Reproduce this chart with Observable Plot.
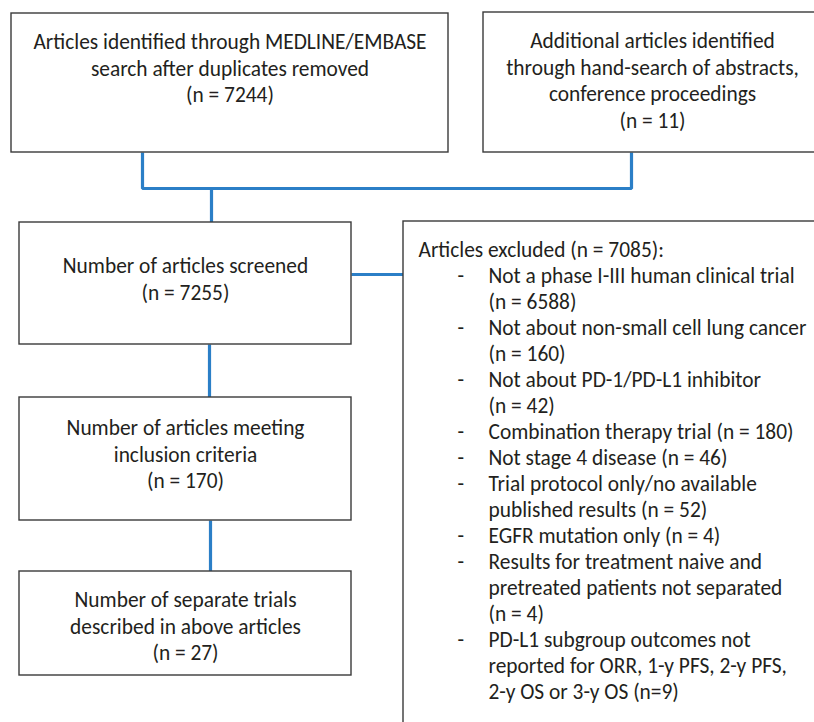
<!DOCTYPE html>
<html>
<head>
<meta charset="utf-8">
<script src="https://cdn.jsdelivr.net/npm/d3@7"></script>
<script src="https://cdn.jsdelivr.net/npm/@observablehq/plot@0.6"></script>
<style>
  html, body { margin: 0; padding: 0; background: #fff; }
  #chart svg { display: block; }
</style>
</head>
<body>
<div id="chart"></div>
<script>
// ---- Data (text and counts) ----
const stageLabels = [
  "Articles identified through MEDLINE/EMBASE\nsearch after duplicates removed",
  "Additional articles identified\nthrough hand-search of abstracts,\nconference proceedings",
  "Number of articles screened",
  "Number of articles meeting\ninclusion criteria",
  "Number of separate trials\ndescribed in above articles"
];
const stageCounts = [7244, 11, 7255, 170, 27];

const excludedHeader = "Articles excluded";
const excludedCount = 7085;
const reasonLabels = [
  "Not a phase I-III human clinical trial",
  "Not about non-small cell lung cancer",
  "Not about PD-1/PD-L1 inhibitor",
  "Combination therapy trial",
  "Not stage 4 disease",
  "Trial protocol only/no available\npublished results",
  "EGFR mutation only",
  "Results for treatment naive and\npretreated patients not separated",
  "PD-L1 subgroup outcomes not\nreported for ORR, 1-y PFS, 2-y PFS,\n2-y OS or 3-y OS"
];
const reasonCounts = [6588, 160, 42, 180, 46, 52, 4, 4, 9];
const countOnNewLine = [true, true, true, false, false, false, false, true, false];
const compactCount = [false, false, false, false, false, false, false, false, true];

// ---- Layout (diagram geometry in pixel units of the x/y scales) ----
const W = 814, H = 722;
// baseline: baseline of the first text line
const boxLayout = [
  {x1: 11,  x2: 448, y1: 13,  y2: 152, cx: 229.5, baseline: 44.5},
  {x1: 483, x2: 822, y1: 12,  y2: 152, cx: 652,   baseline: 43.5},
  {x1: 19,  x2: 351, y1: 222, y2: 344, cx: 185,   baseline: 268.5},
  {x1: 19,  x2: 351, y1: 397, y2: 520, cx: 185,   baseline: 430.5},
  {x1: 19,  x2: 351, y1: 571, y2: 675, cx: 185,   baseline: 602.5}
];
const excludedBox = {x1: 403, x2: 822, y1: 221, y2: 740};
const connectors = [
  [[142, 152], [142, 188], [631, 188], [631, 152]],
  [[211, 188], [211, 222]],
  [[351, 274], [403, 274]],
  [[209, 344], [209, 397]],
  [[210, 520], [210, 571]]
];

const fontSize = 21.4;
const lineStep = 26.8;
const textColor = "#231f20";
const boxStroke = "#3a3a3a";
const blue = "#2b7fc7";
const font = "Carlito, Lato, sans-serif";

// build tables
const boxes = stageLabels.map((label, i) => ({
  ...boxLayout[i],
  text: `${label}\n(n = ${stageCounts[i]})`
}));

const connectorPoints = connectors.flatMap((pts, k) => pts.map(([x, y]) => ({k, x, y})));

// exclusion lines
const exLines = [];
let lineIdx = 0;
exLines.push({text: `${excludedHeader} (n = ${excludedCount}):`, line: lineIdx++, kind: "header"});
reasonLabels.forEach((label, i) => {
  const n = compactCount[i] ? `(n=${reasonCounts[i]})` : `(n = ${reasonCounts[i]})`;
  const full = label + (countOnNewLine[i] ? "\n" : " ") + n;
  full.split("\n").forEach((t, j) => {
    exLines.push({text: t, line: lineIdx, kind: "item", first: j === 0});
    lineIdx++;
  });
});
const exBaseline = 256.5;
const exStep = 26;
// lineAnchor "middle" places baseline at y + 0.32em
exLines.forEach(d => { d.yc = exBaseline + d.line * exStep - 0.32 * fontSize; });
const dashes = exLines.filter(d => d.kind === "item" && d.first);

const chart = Plot.plot({
  width: W,
  height: H,
  margin: 0,
  x: {domain: [0, W], range: [0, W], axis: null},
  y: {domain: [0, H], range: [0, H], axis: null},
  style: {background: "#fff"},
  marks: [
    Plot.line(connectorPoints, {x: "x", y: "y", z: "k", stroke: blue, strokeWidth: 3.2, strokeLinejoin: "miter", strokeLinecap: "butt"}),
    Plot.rect(boxes, {x1: "x1", x2: "x2", y1: "y1", y2: "y2", fill: "white", stroke: boxStroke, strokeWidth: 1.4, clip: true}),
    Plot.rect([excludedBox], {x1: "x1", x2: "x2", y1: "y1", y2: "y2", fill: "white", stroke: boxStroke, strokeWidth: 1.4, clip: true}),
    // lineAnchor "top" places first baseline at y + 0.71em
    Plot.text(boxes, {
      x: "cx", y: d => d.baseline - 0.71 * fontSize, text: "text",
      lineAnchor: "top", textAnchor: "middle",
      fontSize, lineHeight: lineStep / fontSize, fill: textColor, fontFamily: font
    }),
    Plot.text(exLines.filter(d => d.kind === "header"), {
      x: 418, y: "yc", text: "text", textAnchor: "start", lineAnchor: "middle",
      fontSize, fill: textColor, fontFamily: font
    }),
    Plot.text(exLines.filter(d => d.kind === "item"), {
      x: 488, y: "yc", text: "text", textAnchor: "start", lineAnchor: "middle",
      fontSize, fill: textColor, fontFamily: font
    }),
    Plot.text(dashes, {
      x: 457, y: "yc", text: () => "-", textAnchor: "start", lineAnchor: "middle",
      fontSize, fill: textColor, fontFamily: font
    })
  ]
});
document.getElementById("chart").appendChild(chart);
</script>
</body>
</html>
